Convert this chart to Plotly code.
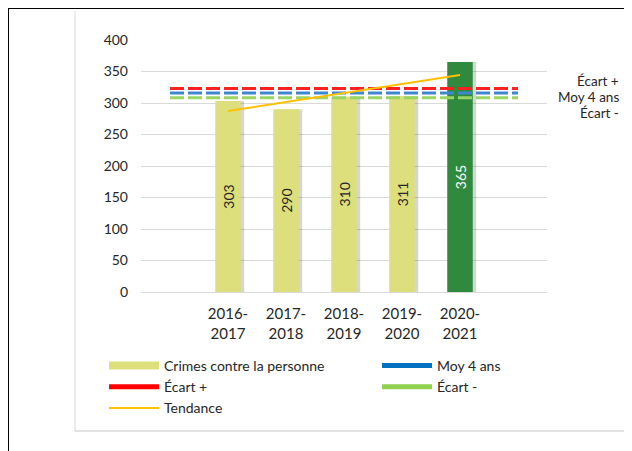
import plotly.graph_objects as go

periods = ["2016-<br>2017", "2017-<br>2018", "2018-<br>2019", "2019-<br>2020", "2020-<br>2021"]
crimes = [303, 290, 310, 311, 365]
tendance = [287.3, 301.5, 315.8, 330.1, 344.3]
moy_4_ans = 315.8
ecart_plus = 323.0
ecart_moins = 308.3
pad_left, pad_right = " ", "  "
slots = [pad_left] + periods + [pad_right]

bar_colors = ["#DCDF7C"] * 4 + ["#2F8A3E"]
text_colors = ["#262626"] * 4 + ["#FFFFFF"]

FONT = "Lato"
BW = 0.44
fig = go.Figure()

# soft shadow behind bars
fig.add_trace(go.Bar(
    x=periods, y=crimes, width=BW, offset=-BW / 2 + 0.06,
    marker=dict(color="rgba(0,0,0,0.16)", line=dict(width=0)),
    showlegend=False, hoverinfo="skip",
))
fig.add_trace(go.Bar(
    x=periods, y=crimes, width=BW, offset=-BW / 2,
    marker=dict(color=bar_colors, line=dict(width=0)),
    text=[str(v) for v in crimes], textposition="inside", insidetextanchor="middle",
    textangle=-90, textfont=dict(color=text_colors, size=14, family=FONT),
    showlegend=False, hoverinfo="skip",
))

span = [pad_left, pad_right]
for val, col in [(ecart_plus, "#FF2020"), (moy_4_ans, "#3F86D0"), (ecart_moins, "#9AD563")]:
    fig.add_trace(go.Scatter(x=span, y=[val, val], mode="lines",
                             line=dict(color=col, width=3, dash="14px,4px"),
                             showlegend=False, hoverinfo="skip"))

fig.add_trace(go.Scatter(x=periods, y=tendance, mode="lines",
                         line=dict(color="#FFC000", width=2), showlegend=False, hoverinfo="skip"))

# legend entries (two columns -> two legends)
legend_items = [
    ("Crimes contre la personne", "#DCDF7C", 8, "legend"),
    ("Écart +", "#FF0000", 5, "legend"),
    ("Tendance", "#FFC000", 2, "legend"),
    ("Moy 4 ans", "#0070C0", 5, "legend2"),
    ("Écart -", "#92D050", 5, "legend2"),
]
for name, col, w, lg in legend_items:
    fig.add_trace(go.Scatter(x=[None], y=[None], mode="lines", name=name,
                             line=dict(color=col, width=w), legend=lg))

# page body adds an 8px offset; figure is sized to fit the 632x451 window
OFF = 8
W, H = 632 - OFF, 451 - OFF
L = 141 - OFF
T = 40 - OFF
R = W - (547 - OFF)
B = H - (292 - OFF)
pw, ph = W - L - R, H - T - B
def px(x): return (x - OFF - L) / pw
def py(y): return (H - B - (y - OFF)) / ph

shapes = [
    dict(type="line", xref="paper", yref="paper", x0=px(8), x1=px(640), y0=py(8), y1=py(8),
         line=dict(color="black", width=2)),
    dict(type="line", xref="paper", yref="paper", x0=px(8), x1=px(8), y0=py(8), y1=py(460),
         line=dict(color="black", width=2)),
    dict(type="line", xref="paper", yref="paper", x0=px(75), x1=px(75), y0=py(11), y1=py(431),
         line=dict(color="#D9D9D9", width=1)),
    dict(type="line", xref="paper", yref="paper", x0=px(75), x1=px(640), y0=py(431), y1=py(431),
         line=dict(color="#D9D9D9", width=1.5)),
]

annotations = []
for label, yy in [("Écart +", 81), ("Moy 4 ans", 97), ("Écart -", 113)]:
    annotations.append(dict(text=label, xref="paper", yref="paper", x=px(621), y=py(yy),
                            xanchor="right", yanchor="middle", showarrow=False,
                            font=dict(family=FONT, size=13.5, color="#262626")))

legend_common = dict(orientation="v", xanchor="left", yanchor="top", itemwidth=50,
                     font=dict(size=14, color="#262626"), tracegroupgap=0,
                     bgcolor="rgba(0,0,0,0)")
fig.update_layout(
    width=W, height=H, margin=dict(l=L, r=R, t=T, b=B),
    paper_bgcolor="white", plot_bgcolor="white",
    font=dict(family=FONT, size=14, color="#404040"),
    shapes=shapes, annotations=annotations,
    barmode="overlay",
    xaxis=dict(type="category", categoryorder="array", categoryarray=slots,
               range=[-0.5, len(slots) - 0.5],
               showgrid=False, showline=True, linecolor="#D9D9D9", linewidth=1,
               ticks="", tickfont=dict(size=15, color="#262626"), ticklabelstandoff=8,
               fixedrange=True),
    yaxis=dict(range=[0, 400], dtick=50, showgrid=True, gridcolor="#D9D9D9", gridwidth=1,
               zeroline=False, showline=False, ticks="", ticklabelstandoff=12,
               tickfont=dict(size=14, color="#262626")),
    legend=dict(x=px(104), y=py(350), **legend_common),
    legend2=dict(x=px(377), y=py(350), **legend_common),
)

fig.write_html("out.html")
